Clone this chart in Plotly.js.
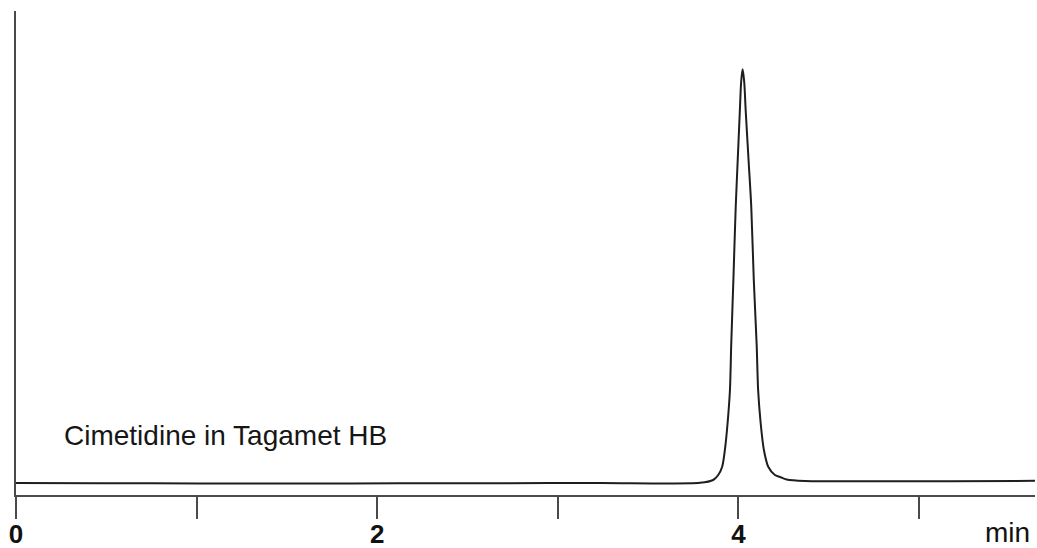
<!DOCTYPE html>
<html>
<head>
<meta charset="utf-8">
<script src="https://cdn.plot.ly/plotly-3.0.1.min.js"></script>
<style>html,body{margin:0;padding:0;background:#fff;}#chart{width:1037px;height:548px;}</style>
</head>
<body>
<div id="chart"></div>
<script>
// Retention time (min)
const timeMin = [0, 0.465, 1.018, 1.572, 2.126, 2.680, 3.233, 3.787, 3.860, 3.888, 3.910, 3.925, 3.940, 3.953, 3.960, 3.972, 3.985, 3.996, 4.008, 4.015, 4.023, 4.032, 4.040, 4.056, 4.071, 4.085, 4.101, 4.109, 4.123, 4.141, 4.165, 4.202, 4.230, 4.267, 4.368, 4.617, 5.171, 5.642];
// Detector signal (arbitrary units)
const signal = [2.48, 2.44, 2.38, 2.38, 2.42, 2.44, 2.48, 2.52, 3.10, 4.13, 5.85, 9.30, 14.88, 21.69, 30.99, 44.42, 59.57, 69.21, 79.55, 85.33, 87.95, 85.33, 79.55, 69.21, 59.57, 44.42, 30.99, 21.69, 14.88, 9.30, 5.85, 4.13, 3.72, 3.20, 2.89, 2.83, 2.85, 2.93];
// Axis ticks
const tickValues = [0, 1, 2, 3, 4, 5];
const tickLabels = ["0", "", "2", "", "4", ""];
const sampleLabel = "Cimetidine in Tagamet HB";
const unitLabel = "min";

const trace = {
  x: timeMin, y: signal, type: 'scatter', mode: 'lines',
  line: {color: '#1e1e1e', width: 2, shape: 'spline', smoothing: 0.8},
  hoverinfo: 'skip'
};

const layout = {
  width: 1037, height: 548,
  margin: {l: 16, r: 2, t: 11, b: 53, pad: 0},
  paper_bgcolor: '#fff', plot_bgcolor: '#fff',
  showlegend: false,
  font: {family: 'Liberation Sans, Arial, sans-serif', color: '#111'},
  xaxis: {
    range: [0, 5.642], showgrid: false, zeroline: false,
    showline: true, linecolor: '#4a4a4a', linewidth: 2,
    ticks: 'outside', ticklen: 22, tickwidth: 2, tickcolor: '#4a4a4a',
    tickmode: 'array', tickvals: tickValues, ticktext: tickLabels,
    ticklabelstandoff: -7,
    tickfont: {size: 26, weight: 'bold', color: '#111', family: 'Liberation Sans, Arial, sans-serif'},
    fixedrange: true
  },
  yaxis: {
    range: [0, 100], showgrid: false, zeroline: false,
    showline: true, linecolor: '#4a4a4a', linewidth: 2,
    ticks: '', showticklabels: false, fixedrange: true
  },
  annotations: [
    {x: 0.254, y: 12.2, xref: 'x', yref: 'y', xanchor: 'left', yanchor: 'middle',
     text: sampleLabel, showarrow: false,
     font: {size: 28, color: '#161616', family: 'Liberation Sans, Arial, sans-serif'}},
    {x: 1, y: 0, xref: 'paper', yref: 'paper', xanchor: 'right', yanchor: 'top',
     yshift: -20, xshift: -3, text: unitLabel, showarrow: false,
     font: {size: 28, color: '#111', family: 'Liberation Sans, Arial, sans-serif'}}
  ]
};

Plotly.newPlot('chart', [trace], layout, {displayModeBar: false, staticPlot: true});
</script>
</body>
</html>
